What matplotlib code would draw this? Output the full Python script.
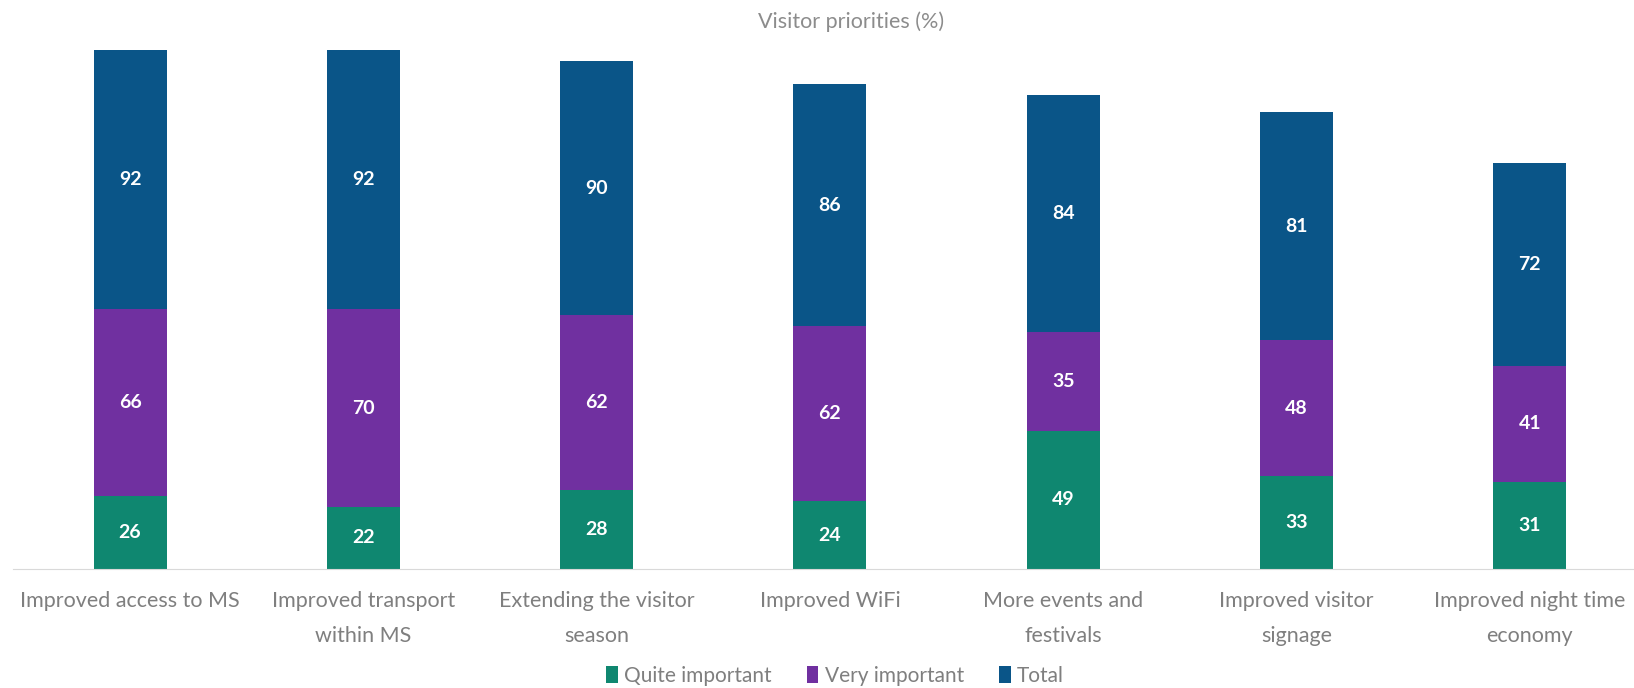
import matplotlib.pyplot as plt
import numpy as np

plt.rcParams['font.family'] = ['Lato', 'DejaVu Sans']

categorias = ["Improved access to MS", "Improved transport\nwithin MS",
              "Extending the visitor\nseason", "Improved WiFi",
              "More events and\nfestivals", "Improved visitor\nsignage",
              "Improved night time\neconomy"]
quite_important = [26, 22, 28, 24, 49, 33, 31]
very_important = [66, 70, 62, 62, 35, 48, 41]
total = [92, 92, 90, 86, 84, 81, 72]

series = [("Quite important", quite_important, "#0f8770"),
          ("Very important", very_important, "#7030a0"),
          ("Total", total, "#0a5588")]

fig = plt.figure(figsize=(16.34, 6.88), dpi=100)
ax = fig.add_axes([0.0082, 0.173, 0.9994, 0.82])

x = np.arange(len(categorias))
base = np.zeros(len(categorias))
for nombre, valores, color in series:
    barras = ax.bar(x, valores, width=0.313, bottom=base, color=color, label=nombre)
    ax.bar_label(barras, labels=[str(v) for v in valores], label_type='center',
                 color='white', fontsize=14, fontweight='bold')
    base = base + np.array(valores)

ax.set_xlim(-0.5, 6.5)
ax.set_ylim(0, 200)
ax.set_xticks(x)
ax.set_xticklabels(categorias, fontsize=15.5, color='#7f7f7f', linespacing=1.95)
ax.tick_params(axis='x', length=0, pad=16)
ax.set_yticks([])
for lado in ['top', 'right', 'left']:
    ax.spines[lado].set_visible(False)
ax.spines['bottom'].set_color('#d9d9d9')

fig.text(0.521, 0.968, "Visitor priorities (%)", ha='center', va='center',
         fontsize=15.5, color='#8c8c8c')

fig.legend(loc='center', bbox_to_anchor=(0.511, 0.018), ncol=3, frameon=False,
           fontsize=15, handlelength=0.55, handleheight=0.9, handletextpad=0.3,
           columnspacing=1.7, labelcolor='#7f7f7f')

fig.savefig('out.png', dpi=100)
